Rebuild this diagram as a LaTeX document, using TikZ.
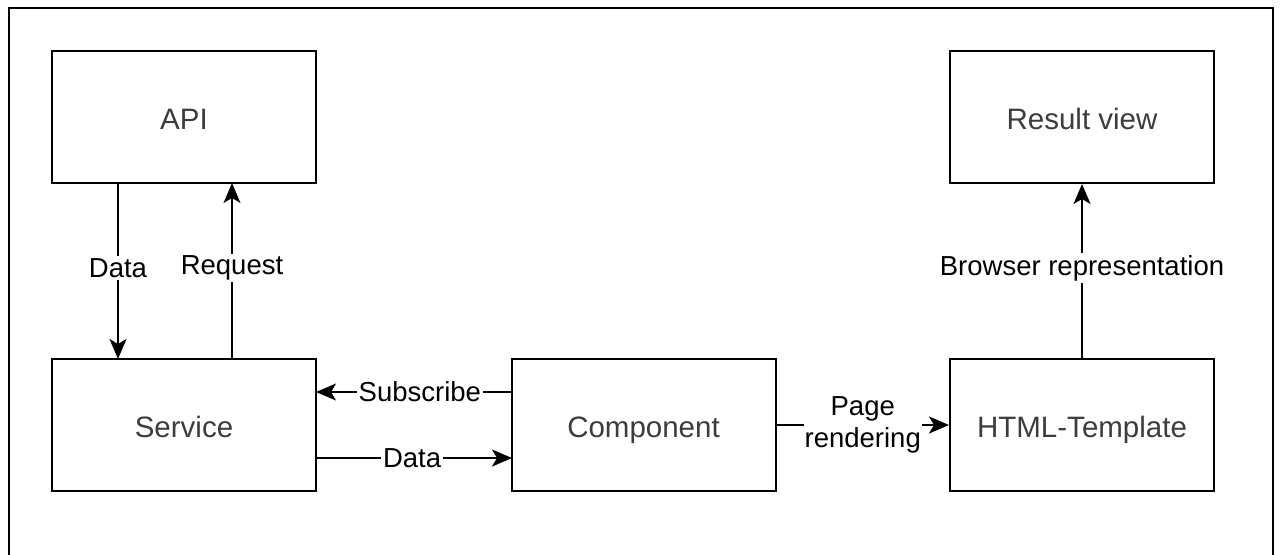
\documentclass[tikz,border=0pt]{standalone}
\usepackage{fontspec}
\setmainfont{Liberation Sans}
\usetikzlibrary{arrows.meta}
\definecolor{boxtext}{RGB}{60,60,60}
\begin{document}
\begin{tikzpicture}[x=1pt,y=-1pt,
  block/.style={draw=black,line width=2pt,minimum width=264pt,minimum height=132pt,
    inner sep=0pt,text height=25pt,text depth=0pt,text=boxtext,font=\fontsize{29.5}{34}\selectfont},
  link/.style={line width=2pt,-{Stealth[length=20pt,width=17pt,inset=5pt]}},
  tag/.style={fill=white,inner sep=2pt,text=black,font=\fontsize{27.5}{32}\selectfont,align=center}]
\useasboundingbox (0,0) rectangle (1281,554);
% frame around the whole drawing
\draw[line width=2.4pt] (9,560) -- (9,8) -- (1273,8) -- (1273,560);

% blocks
\node[block] (api)  at (184,117) {API};
\node[block] (svc)  at (184,425) {Service};
\node[block] (comp) at (643.5,425) {Component};
\node[block] (tpl)  at (1082,425) {HTML-Template};
\node[block] (res)  at (1082,117) {Result view};

% API <-> Service
\coordinate (apiL) at (118,183);
\coordinate (svcL) at (118,359);
\coordinate (svcR) at (232,359);
\coordinate (apiR) at (232,183);
\draw[link] (apiL) -- node[tag,pos=0.483] {Data} (svcL);
\draw[link] (svcR) -- node[tag,pos=0.517] {Request} (apiR);

% Service <-> Component
\coordinate (compA) at (512,392);
\coordinate (svcA) at (316,392);
\coordinate (svcB) at (316,458);
\coordinate (compB) at (512,458);
\draw[link] (compA) -- node[tag,pos=0.47] {Subscribe} (svcA);
\draw[link] (svcB) -- node[tag,pos=0.49] {Data} (compB);

% Component -> HTML-Template
\draw[link] (comp.east) -- node[tag,inner sep=1pt] {Page\\rendering} (tpl.west);

% HTML-Template -> Result view
\draw[link] (tpl.north) -- node[tag,pos=0.517] {Browser representation} (res.south);
\end{tikzpicture}
\end{document}
